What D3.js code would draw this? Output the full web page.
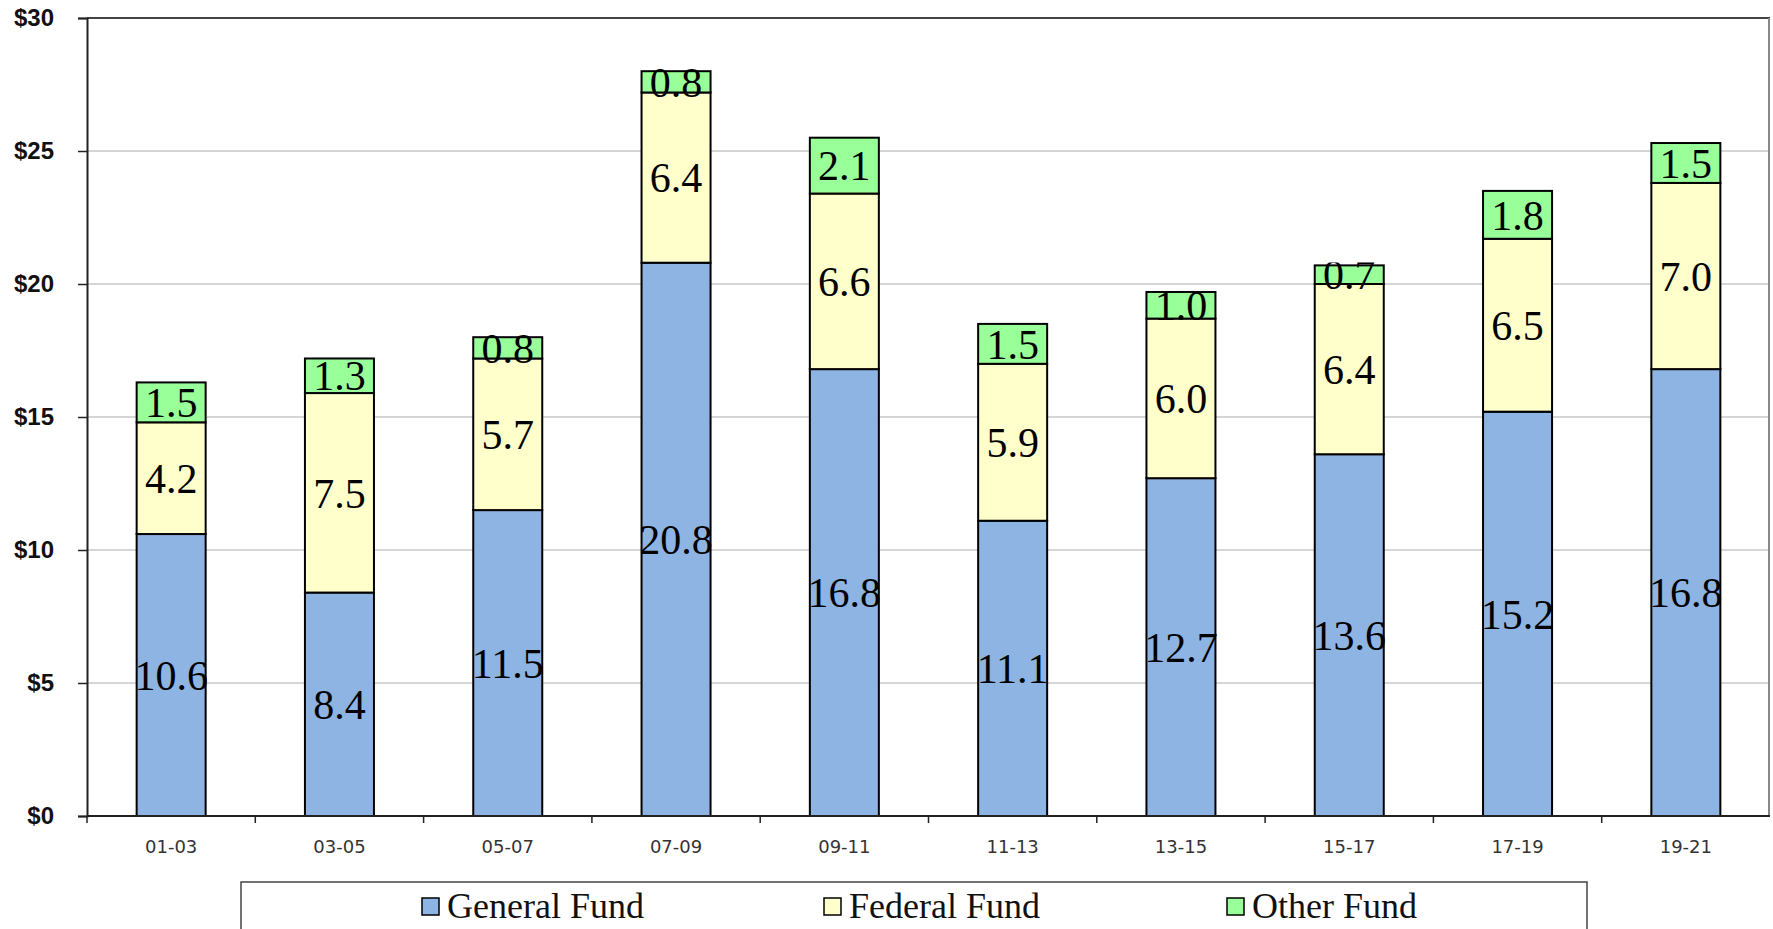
<!DOCTYPE html>
<html>
<head>
<meta charset="utf-8">
<script src="https://cdn.jsdelivr.net/npm/d3@7"></script>
<style>
  html, body { margin: 0; padding: 0; background: #fff; }
  svg { display: block; }
</style>
</head>
<body>
<svg id="chart" width="1773" height="929"></svg>
<script>
// biennium labels and fund values (billions)
var periods = ["01-03", "03-05", "05-07", "07-09", "09-11", "11-13", "13-15", "15-17", "17-19", "19-21"];
var generalFund = [10.6, 8.4, 11.5, 20.8, 16.8, 11.1, 12.7, 13.6, 15.2, 16.8];
var federalFund = [4.2, 7.5, 5.7, 6.4, 6.6, 5.9, 6.0, 6.4, 6.5, 7.0];
var otherFund   = [1.5, 1.3, 0.8, 0.8, 2.1, 1.5, 1.0, 0.7, 1.8, 1.5];
var fundNames = ["General Fund", "Federal Fund", "Other Fund"];
var fundColors = ["#8eb4e3", "#ffffcc", "#99ff99"];
var yTicks = [0, 5, 10, 15, 20, 25, 30];

var svg = d3.select("svg#chart");

// plot area edges (note: "top" is reserved on window, so use plot_*)
var plot_left = 87, plot_right = 1770, plot_top = 18, plot_bottom = 816;

var x = d3.scaleBand().domain(periods).range([plot_left, plot_right]).paddingInner(0.59).paddingOuter(0.295);
var xEdge = d3.scaleBand().domain(periods).range([plot_left, plot_right]);
var y = d3.scaleLinear().domain([0, 30]).range([plot_bottom, plot_top]);

// rows for the stack
var rows = periods.map(function(p, i) {
  return { period: p, general: generalFund[i], federal: federalFund[i], other: otherFund[i] };
});
var keys = ["general", "federal", "other"];
var series = d3.stack().keys(keys)(rows);

// gridlines
svg.append("g")
  .selectAll("line")
  .data(yTicks.filter(function(t) { return t > 0 && t < 30; }))
  .enter().append("line")
  .attr("x1", plot_left).attr("x2", plot_right)
  .attr("y1", function(d) { return y(d); })
  .attr("y2", function(d) { return y(d); })
  .style("stroke", "#c8c8c8")
  .style("stroke-width", 1.5);

// plot frame top + right
svg.append("line").attr("x1", plot_left).attr("x2", plot_right).attr("y1", y(30)).attr("y2", y(30))
  .style("stroke", "#444").style("stroke-width", 2);
svg.append("line").attr("x1", plot_right - 1).attr("x2", plot_right - 1).attr("y1", y(30)).attr("y2", plot_bottom)
  .style("stroke", "#888").style("stroke-width", 2);

// clip each stack to its outline so tiny labels get cut like the original
var defs = svg.append("defs");
rows.forEach(function(r, i) {
  var total = r.general + r.federal + r.other;
  defs.append("clipPath").attr("id", "clip" + i)
    .append("rect")
    .attr("x", x(r.period) - 2)
    .attr("width", x.bandwidth() + 4)
    .attr("y", y(total) - 3)
    .attr("height", plot_bottom - y(total) + 3);
});

// bars
var layer = svg.append("g").selectAll("g")
  .data(series)
  .enter().append("g")
  .style("fill", function(d, i) { return fundColors[i]; });

layer.selectAll("rect")
  .data(function(d) { return d; })
  .enter().append("rect")
  .attr("x", function(d) { return x(d.data.period); })
  .attr("y", function(d) { return y(d[1]); })
  .attr("width", x.bandwidth())
  .attr("height", function(d) { return y(d[0]) - y(d[1]); })
  .style("stroke", "#000")
  .style("stroke-width", 2);

// value labels
series.forEach(function(s) {
  svg.append("g").selectAll("text")
    .data(s)
    .enter().append("text")
    .attr("clip-path", function(d, i) { return "url(#clip" + i + ")"; })
    .attr("x", function(d) { return x(d.data.period) + x.bandwidth() / 2; })
    .attr("y", function(d) { return (y(d[0]) + y(d[1])) / 2; })
    .attr("dy", "0.35em")
    .attr("text-anchor", "middle")
    .style("font-family", "'Liberation Serif', 'Times New Roman', serif")
    .style("font-size", "42px")
    .style("fill", "#000")
    .text(function(d) { return (d[1] - d[0]).toFixed(1); });
});

// y axis
var yAxis = svg.append("g")
  .attr("transform", "translate(" + plot_left + ",0)")
  .call(d3.axisLeft(y).tickValues(yTicks).tickSize(9).tickPadding(24).tickFormat(function(d) { return "$" + d; }));
yAxis.select(".domain").style("stroke", "#222").style("stroke-width", 2);
yAxis.selectAll(".tick line").style("stroke", "#222").style("stroke-width", 1.5);
yAxis.selectAll("text")
  .style("font-family", "'Liberation Sans', Arial, sans-serif")
  .style("font-weight", "bold")
  .style("font-size", "24px")
  .style("fill", "#111");

// x axis
var xAxis = svg.append("g")
  .attr("transform", "translate(0," + plot_bottom + ")")
  .call(d3.axisBottom(x).tickSize(0).tickPadding(24));
xAxis.select(".domain").remove();
xAxis.selectAll("text")
  .style("font-family", "'DejaVu Sans', Verdana, sans-serif")
  .style("font-size", "18px")
  .style("fill", "#333");
svg.append("line").attr("x1", plot_left).attr("x2", plot_right).attr("y1", plot_bottom).attr("y2", plot_bottom)
  .style("stroke", "#222").style("stroke-width", 2);
svg.append("g").selectAll("line")
  .data(periods)
  .enter().append("line")
  .attr("x1", function(d) { return xEdge(d); })
  .attr("x2", function(d) { return xEdge(d); })
  .attr("y1", plot_bottom).attr("y2", plot_bottom + 7)
  .style("stroke", "#222").style("stroke-width", 1.5);

// legend
var legend = svg.append("g");
legend.append("rect")
  .attr("x", 241).attr("y", 882).attr("width", 1346).attr("height", 80)
  .style("fill", "#fff").style("stroke", "#444").style("stroke-width", 1.5);

var legendX = [422, 824, 1227];
var item = legend.selectAll("g.item")
  .data(fundNames)
  .enter().append("g")
  .attr("class", "item")
  .attr("transform", function(d, i) { return "translate(" + legendX[i] + ",0)"; });
item.append("rect")
  .attr("x", 0).attr("y", 898).attr("width", 17).attr("height", 17)
  .style("fill", function(d, i) { return fundColors[i]; })
  .style("stroke", "#000").style("stroke-width", 1.5);
item.append("text")
  .attr("x", 25).attr("y", 918)
  .style("font-family", "'Liberation Serif', 'Times New Roman', serif")
  .style("font-size", "36px")
  .style("fill", "#111")
  .text(function(d) { return d; });
</script>
</body>
</html>
